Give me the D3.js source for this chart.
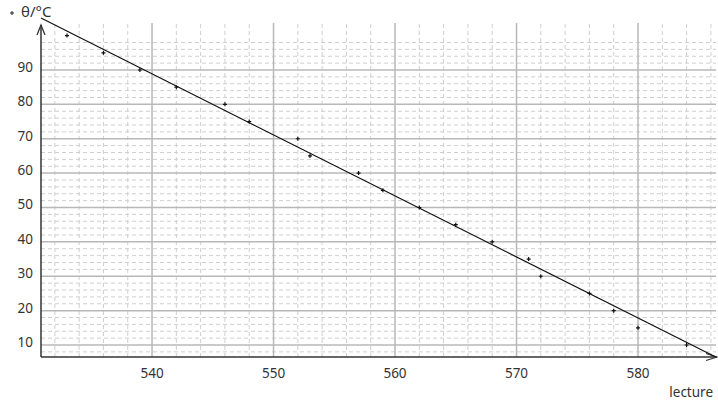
<!DOCTYPE html>
<html>
<head>
<meta charset="utf-8">
<script src="https://cdn.jsdelivr.net/npm/d3@7"></script>
<style>
  html, body { margin: 0; padding: 0; background: #fff; }
  svg { display: block; font-family: "Noto Sans", "Open Sans", sans-serif; }
</style>
</head>
<body>
<svg id="chart" width="718" height="404"></svg>
<script>
// ---- data ----
const lectures = [533, 536, 539, 542, 546, 548, 552, 553, 557, 559, 562, 565, 568, 571, 572, 576, 578, 580, 584];
const temperatures = [100, 95, 90, 85, 80, 75, 70, 65, 60, 55, 50, 45, 40, 35, 30, 25, 20, 15, 10];
// fitted line endpoints as seen on the picture
const fitLectures = [530.86, 586.4];
const fitTemperatures = [105.1, 6.5];
const xTickLabels = [540, 550, 560, 570, 580];
const yTickLabels = [10, 20, 30, 40, 50, 60, 70, 80, 90];
const xMinorTicks = [532, 534, 536, 538, 542, 544, 546, 548, 552, 554, 556, 558, 562, 564, 566, 568, 572, 574, 576, 578, 582, 584, 586];
const yMinorTicks = [8, 12, 14, 16, 18, 22, 24, 26, 28, 32, 34, 36, 38, 42, 44, 46, 48, 52, 54, 56, 58, 62, 64, 66, 68, 72, 74, 76, 78, 82, 84, 86, 88, 92, 94, 96, 98];
const xLabel = "lecture";
const yLabel = "θ/°C";

// ---- layout ----
const svg = d3.select("#chart");
const x = d3.scaleLinear().domain([530.86, 586.42]).range([41, 716]);
const y = d3.scaleLinear().domain([6.51, 103.67]).range([357, 23]);
const [x0, x1] = x.range();
const [y0, y1] = y.range();

const grid = svg.append("g");
// minor horizontal dashed
grid.selectAll("line.hm").data(yMinorTicks).join("line")
  .attr("x1", x0).attr("x2", x1)
  .attr("y1", d => y(d)).attr("y2", d => y(d))
  .attr("stroke", "#cfcfcf").attr("stroke-width", 1).attr("stroke-dasharray", "4,3");
// minor vertical dashed
grid.selectAll("line.vm").data(xMinorTicks).join("line")
  .attr("x1", d => x(d)).attr("x2", d => x(d))
  .attr("y1", y0).attr("y2", y1)
  .attr("stroke", "#cfcfcf").attr("stroke-width", 1).attr("stroke-dasharray", "4,3");
// major horizontal
grid.selectAll("line.hM").data(yTickLabels).join("line")
  .attr("x1", x0).attr("x2", x1)
  .attr("y1", d => y(d)).attr("y2", d => y(d))
  .attr("stroke", "#b8b8b8").attr("stroke-width", 1.5);
// major vertical
grid.selectAll("line.vM").data(xTickLabels).join("line")
  .attr("x1", d => x(d)).attr("x2", d => x(d))
  .attr("y1", y0).attr("y2", y1)
  .attr("stroke", "#b8b8b8").attr("stroke-width", 1.5);

// axes
const axisColor = "#333";
svg.append("line").attr("x1", x0).attr("x2", 717).attr("y1", y0).attr("y2", y0)
  .attr("stroke", axisColor).attr("stroke-width", 1.5);
svg.append("line").attr("x1", x0).attr("x2", x0).attr("y1", y0).attr("y2", 25)
  .attr("stroke", axisColor).attr("stroke-width", 1.5);
// arrow heads (open V)
svg.append("path").attr("d", `M${x0 - 4},35 L${x0},25 L${x0 + 4},35`)
  .attr("fill", "none").attr("stroke", axisColor).attr("stroke-width", 1.3);
svg.append("path").attr("d", `M706,${y0 - 3.5} L717,${y0} L706,${y0 + 3.5}`)
  .attr("fill", "none").attr("stroke", axisColor).attr("stroke-width", 1.3);

// tick labels
svg.append("g").selectAll("text").data(xTickLabels).join("text")
  .attr("x", d => x(d)).attr("y", 378)
  .attr("text-anchor", "middle").attr("font-size", 13.5).attr("fill", "#333")
  .text(d => d);
svg.append("g").selectAll("text").data(yTickLabels).join("text")
  .attr("x", 33).attr("y", d => y(d) + 2)
  .attr("text-anchor", "end").attr("font-size", 13.5).attr("fill", "#333")
  .text(d => d);

// axis titles
svg.append("text").attr("x", 713).attr("y", 397).attr("text-anchor", "end")
  .attr("font-size", 13.5).attr("fill", "#333").text(xLabel);
svg.append("text").attr("x", 21).attr("y", 17).attr("text-anchor", "start")
  .attr("font-size", 15).attr("fill", "#333").text(yLabel);
// legend marker
svg.append("path").attr("d", "M10,13 h4 M12,11 v4").attr("stroke", "#222").attr("stroke-width", 1);

// fitted line
const fit = fitLectures.map((v, i) => [v, fitTemperatures[i]]);
svg.append("path").datum(fit)
  .attr("d", d3.line().x(d => x(d[0])).y(d => y(d[1])))
  .attr("fill", "none").attr("stroke", "#111").attr("stroke-width", 1.2);

// points as '+'
const pts = lectures.map((v, i) => [v, temperatures[i]]);
svg.append("g").selectAll("path").data(pts).join("path")
  .attr("d", d => `M${x(d[0]) - 2},${y(d[1])} h4 M${x(d[0])},${y(d[1]) - 2} v4`)
  .attr("stroke", "#111").attr("stroke-width", 1.2);
</script>
</body>
</html>
